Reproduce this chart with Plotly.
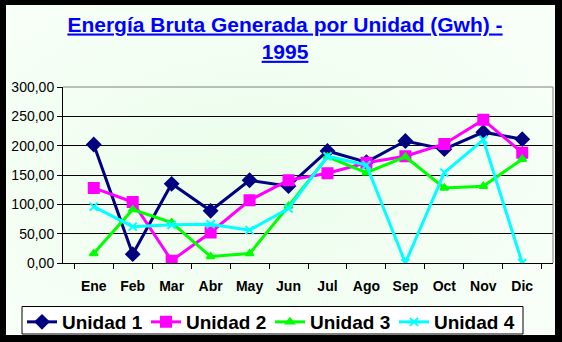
import base64
import plotly.graph_objects as go

meses = ["Ene", "Feb", "Mar", "Abr", "May", "Jun", "Jul", "Ago", "Sep", "Oct", "Nov", "Dic"]
unidad_1 = [202, 15, 135, 89, 141, 131, 191, 172, 208, 194, 223, 211]
unidad_2 = [128, 104, 4, 52, 107, 141, 153, 171, 182, 203, 244, 188]
unidad_3 = [16, 91, 69, 11, 16, 97, 181, 154, 181, 128, 131, 177]
unidad_4 = [96, 62, 65, 66, 56, 93, 182, 167, 0, 154, 210, 0]
y_ticks = [0, 50, 100, 150, 200, 250, 300]

W, H = 562, 342
L, R, T, B = 63, 9, 87, 79
pw, ph = W - L - R, H - T - B


def px_x(v):
    return (v - L) / pw


def px_y(v):
    return (H - B - v) / ph


fig = go.Figure()

series = [
    ("Unidad 1", unidad_1, "#000080", "diamond", 10, 3),
    ("Unidad 2", unidad_2, "#FF00FF", "square", 10, 3),
    ("Unidad 3", unidad_3, "#00FF00", "triangle-up", 7, 3),
    ("Unidad 4", unidad_4, "#00FFFF", "x-thin", 8, 3),
]
for name, vals, color, sym, size, lw in series:
    fig.add_trace(go.Scatter(
        x=meses, y=vals, name=name, mode="lines+markers",
        line=dict(color=color, width=lw),
        marker=dict(symbol=sym, size=size, color=color,
                    line=dict(color=color, width=2)),
    ))

# soft green backdrop of the chart area
svg = (
    '<svg xmlns="http://www.w3.org/2000/svg" width="549" height="330">'
    '<defs><radialGradient id="g" cx="0.45" cy="0.5" r="0.65">'
    '<stop offset="0" stop-color="#EAFDEA"/>'
    '<stop offset="1" stop-color="#F8FFF8"/></radialGradient></defs>'
    '<rect width="549" height="330" fill="url(#g)"/></svg>'
)
src = "data:image/svg+xml;base64," + base64.b64encode(svg.encode()).decode()
fig.add_layout_image(dict(
    source=src, xref="paper", yref="paper", x=px_x(6), y=px_y(5),
    sizex=px_x(555) - px_x(6), sizey=px_y(5) - px_y(335),
    xanchor="left", yanchor="top", sizing="stretch", layer="below",
))

# gray frame on the top and right of the plot area
fig.add_shape(type="path", xref="paper", yref="paper",
              path="M 0,1 L 1,1 L 1,0", line=dict(color="#808080", width=1))

# white legend box
fig.add_shape(type="rect", xref="paper", yref="paper",
              x0=px_x(22), x1=px_x(523), y0=px_y(334), y1=px_y(306.5),
              fillcolor="#FFFFFF", line=dict(color="#000000", width=1))

fig.update_layout(
    width=W, height=H,
    margin=dict(l=L, r=R, t=T, b=B, autoexpand=False),
    paper_bgcolor="#000000",
    plot_bgcolor="#FFFFFF",
    separators=",.",
    font=dict(family="Liberation Sans, Arial", color="#000000"),
    title=dict(
        text="<b>Energía Bruta Generada por Unidad (Gwh) -<br>1995</b>",
        font=dict(size=21, color="#0000FF", lineposition="under"),
        x=285 / W, xanchor="center", xref="container",
        y=1 - 31.5 / H, yanchor="middle", yref="container",
    ),
    showlegend=True,
    legend=dict(
        orientation="h", xref="paper", yref="paper",
        x=px_x(22), y=px_y(303),
        xanchor="left", yanchor="top",
        bgcolor="rgba(0,0,0,0)", borderwidth=0,
        font=dict(size=19, color="#000000", family="Liberation Sans, Arial", weight="bold"),
        itemwidth=30, tracegroupgap=0, entrywidth=79,
    ),
    xaxis=dict(
        type="category", showgrid=False, showline=True, linecolor="#000000",
        linewidth=1, ticks="outside", tickson="boundaries", ticklen=5,
        tickcolor="#000000", ticklabelstandoff=10,
        tickfont=dict(size=14, weight="bold"), zeroline=False,
    ),
    yaxis=dict(
        range=[0, 300], tickvals=y_ticks, tickformat=".2f",
        showgrid=True, gridcolor="#000000", gridwidth=1,
        showline=True, linecolor="#000000", linewidth=1,
        ticks="outside", ticklen=5, tickcolor="#000000",
        tickfont=dict(size=14), zeroline=False,
    ),
)

fig.write_html("out.html")
